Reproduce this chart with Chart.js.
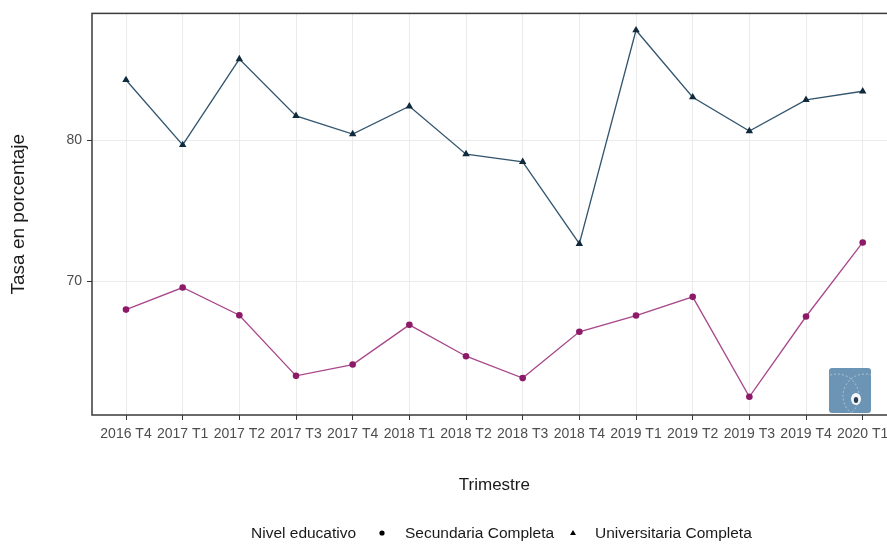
<!DOCTYPE html>
<html>
<head>
<meta charset="utf-8">
<script src="https://cdn.jsdelivr.net/npm/chart.js@4.4.1/dist/chart.umd.min.js"></script>
<style>
    html, body { margin: 0; padding: 0; background: #fff; overflow: hidden; }
    #wrap { width: 901px; height: 545px; }
</style>
</head>
<body>
<div id="wrap"><canvas id="grafico" width="901" height="545"></canvas></div>
<script>
const trimestres = ['2016 T4', '2017 T1', '2017 T2', '2017 T3', '2017 T4', '2018 T1', '2018 T2',
    '2018 T3', '2018 T4', '2019 T1', '2019 T2', '2019 T3', '2019 T4', '2020 T1'];
const secundaria = [68.0, 69.56, 67.6, 63.31, 64.11, 66.92, 64.7, 63.15, 66.43, 67.58, 68.9, 61.83, 67.51, 72.75];
const universitaria = [84.25, 79.65, 85.73, 81.71, 80.42, 82.39, 79.0, 78.45, 72.66, 87.77, 83.03, 80.63, 82.84, 83.45];
const marcasY = [70, 80];

const fuente = "'Liberation Sans', Arial, sans-serif";

// borde del panel (estilo theme_bw)
const bordePanel = {
    id: 'bordePanel',
    afterDraw(chart) {
        const { ctx, chartArea } = chart;
        ctx.save();
        ctx.strokeStyle = '#3a3a3a';
        ctx.lineWidth = 1.5;
        ctx.strokeRect(chartArea.left, chartArea.top, chartArea.right - chartArea.left, chartArea.bottom - chartArea.top);
        ctx.restore();
    }
};

// leyenda horizontal con titulo
const leyenda = {
    id: 'leyenda',
    afterDraw(chart) {
        const ctx = chart.ctx;
        const y = 534;
        ctx.save();
        ctx.font = '15.5px ' + fuente;
        ctx.fillStyle = '#1a1a1a';
        ctx.textBaseline = 'middle';
        ctx.textAlign = 'left';
        ctx.fillText('Nivel educativo', 251, y);
        ctx.fillText('Secundaria Completa', 405, y);
        ctx.fillText('Universitaria Completa', 595, y);
        ctx.fillStyle = '#000';
        ctx.beginPath();
        ctx.arc(382, y - 1, 2.6, 0, Math.PI * 2);
        ctx.fill();
        ctx.beginPath();
        ctx.moveTo(573, y - 4);
        ctx.lineTo(576, y + 1);
        ctx.lineTo(570, y + 1);
        ctx.closePath();
        ctx.fill();
        ctx.restore();
    }
};

// marca de agua (logo)
const logo = {
    id: 'logo',
    afterDraw(chart) {
        const ctx = chart.ctx;
        const x = 829, y = 368, w = 42, h = 45;
        ctx.save();
        ctx.fillStyle = '#6c94b4';
        ctx.beginPath();
        ctx.roundRect(x, y, w, h, 3);
        ctx.fill();
        ctx.beginPath();
        ctx.rect(x, y, w, h);
        ctx.clip();
        ctx.strokeStyle = 'rgba(255,255,255,0.55)';
        ctx.lineWidth = 0.8;
        ctx.setLineDash([2, 2]);
        ctx.beginPath();
        ctx.arc(x + 8, y + 28, 22, 0, Math.PI * 2);
        ctx.stroke();
        ctx.beginPath();
        ctx.arc(x + 36, y + 28, 22, 0, Math.PI * 2);
        ctx.stroke();
        ctx.setLineDash([]);
        ctx.fillStyle = '#f4f7fa';
        ctx.beginPath();
        ctx.ellipse(x + 27, y + 31, 5, 6, 0, 0, Math.PI * 2);
        ctx.fill();
        ctx.fillStyle = '#2b3f52';
        ctx.beginPath();
        ctx.ellipse(x + 27, y + 32, 2.2, 3, 0, 0, Math.PI * 2);
        ctx.fill();
        ctx.restore();
    }
};

const config = {
    type: 'line',
    data: {
        datasets: [{
            label: 'Universitaria Completa',
            data: universitaria.map((v, i) => ({ x: i, y: v })),
            borderColor: '#33566e',
            borderWidth: 1.3,
            pointStyle: 'triangle',
            pointRadius: 4.3,
            pointBackgroundColor: '#10293b',
            pointBorderColor: '#10293b',
            pointBorderWidth: 0,
            tension: 0
        }, {
            label: 'Secundaria Completa',
            data: secundaria.map((v, i) => ({ x: i, y: v })),
            borderColor: '#a8478a',
            borderWidth: 1.3,
            pointStyle: 'circle',
            pointRadius: 3.3,
            pointBackgroundColor: '#8c1a68',
            pointBorderColor: '#8c1a68',
            pointBorderWidth: 0,
            tension: 0
        }]
    },
    options: {
        responsive: false,
        animation: false,
        devicePixelRatio: 1,
        layout: { padding: { top: 10, right: 1, bottom: 40, left: 0 } },
        plugins: {
            legend: { display: false },
            tooltip: { enabled: false }
        },
        scales: {
            x: {
                type: 'linear',
                min: -0.6,
                max: 13.6,
                afterBuildTicks: (scale) => { scale.ticks = trimestres.map((t, i) => ({ value: i })); },
                afterFit: (scale) => { scale.height = 90; },
                ticks: {
                    autoSkip: false,
                    maxRotation: 0,
                    padding: 6,
                    color: '#4d4d4d',
                    font: { family: fuente, size: 14 },
                    callback: (v) => trimestres[v] || ''
                },
                grid: { color: '#ebebeb', lineWidth: 1, tickColor: '#333', tickLength: 5 },
                border: { display: false },
                title: {
                    display: true,
                    text: 'Trimestre',
                    color: '#1a1a1a',
                    font: { family: fuente, size: 17 },
                    padding: { top: 0, bottom: 9 }
                }
            },
            y: {
                min: 60.54,
                max: 88.96,
                afterBuildTicks: (scale) => { scale.ticks = marcasY.map(v => ({ value: v })); },
                afterFit: (scale) => { scale.width = 92; },
                ticks: {
                    padding: 5,
                    color: '#4d4d4d',
                    font: { family: fuente, size: 14 }
                },
                grid: { color: '#ebebeb', lineWidth: 1, tickColor: '#333', tickLength: 5 },
                border: { display: false },
                title: {
                    display: true,
                    text: 'Tasa en porcentaje',
                    color: '#1a1a1a',
                    font: { family: fuente, size: 19 },
                    padding: { top: 7, bottom: 0 }
                }
            }
        }
    },
    plugins: [bordePanel, leyenda, logo]
};

new Chart(document.getElementById('grafico'), config);
</script>
</body>
</html>
